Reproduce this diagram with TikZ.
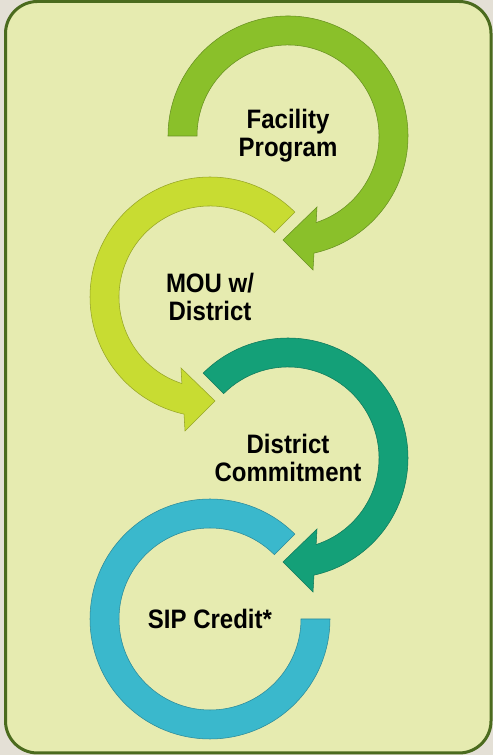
\documentclass[tikz,border=0pt]{standalone}
\usepackage{fontspec}
\newfontfamily\lblfont[FakeStretch=0.9]{Liberation Sans}

\definecolor{framegreen}{HTML}{4B6B1E}
\definecolor{paper}{HTML}{E6EBB0}
\definecolor{outside}{HTML}{E4E0D6}
\definecolor{facgreen}{HTML}{8AC02A}
\definecolor{mouyellow}{HTML}{C8DC32}
\definecolor{distteal}{HTML}{14A078}
\definecolor{sipblue}{HTML}{3AB8CC}

\tikzset{
  lbl/.style={align=center, inner sep=0pt, font=\lblfont\bfseries\fontsize{20}{21}\selectfont},
  ring/.style={fill=#1, draw=#1!75!black, line width=0.4pt}
}

\begin{document}
\begin{tikzpicture}[x=0.75pt,y=0.75pt]
\fill[outside] (0,0) rectangle (493,755);
\draw[framegreen, line width=2.25pt, fill=paper, rounded corners=24pt] (5.5,2) rectangle (491,753.5);

\node[lbl] (fac) at (288,619) {Facility\\Program};
\node[lbl] (mou) at (210,458) {MOU w/\\District};
\node[lbl] (dist) at (288,297) {District\\Commitment};
\node[lbl] (sip) at (210,136) {SIP Credit*};

% rings round the labels
\begin{scope}[shift={(fac.center)}]
\draw[ring=facgreen] (180:120) arc (180:-77.5:120) -- (25,-134) -- (-5,-104) -- (29,-71)
  -- (-72:91) arc (-72:180:91) -- cycle;
\end{scope}

\begin{scope}[shift={(mou.center)}]
\draw[ring=mouyellow] (45:120) arc (45:257.5:120) -- (-25,-134) -- (5,-104) -- (-29,-71)
  -- (252:91) arc (252:45:91) -- cycle;
\end{scope}

\begin{scope}[shift={(dist.center)}]
\draw[ring=distteal] (135:120) arc (135:-77.5:120) -- (25,-134) -- (-5,-104) -- (29,-71)
  -- (-72:91) arc (-72:135:91) -- cycle;
\end{scope}

\begin{scope}[shift={(sip.center)}]
\draw[ring=sipblue] (45:120) arc (45:360:120) -- (0:91) arc (360:45:91) -- cycle;
\end{scope}
\end{tikzpicture}
\end{document}
